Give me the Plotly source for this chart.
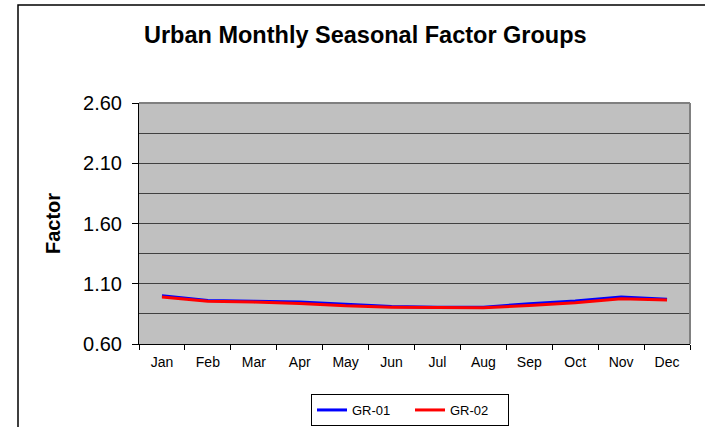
import plotly.graph_objects as go

months = ["Jan", "Feb", "Mar", "Apr", "May", "Jun", "Jul", "Aug", "Sep", "Oct", "Nov", "Dec"]
gr01 = [1.00, 0.962, 0.954, 0.948, 0.929, 0.912, 0.906, 0.906, 0.934, 0.957, 0.990, 0.971]
gr02 = [0.99, 0.954, 0.948, 0.937, 0.917, 0.906, 0.903, 0.900, 0.920, 0.943, 0.976, 0.965]
y_ticks = [0.60, 1.10, 1.60, 2.10, 2.60]

W, H = 705, 427
L, R, T, B = 139, 15, 103, 83
pw, ph = W - L - R, H - T - B

def px_x(x):
    return (x - L) / pw

def px_y(y):
    return (H - B - y) / ph

fig = go.Figure()
fig.add_trace(go.Scatter(x=months, y=gr01, mode="lines", name="GR-01",
                         line=dict(color="#0000FF", width=3)))
fig.add_trace(go.Scatter(x=months, y=gr02, mode="lines", name="GR-02",
                         line=dict(color="#FF0000", width=3)))

font = "Liberation Sans, Arial, sans-serif"
fig.update_layout(
    width=W, height=H,
    margin=dict(l=L, r=R, t=T, b=B, pad=0, autoexpand=False),
    paper_bgcolor="white",
    plot_bgcolor="#C0C0C0",
    font=dict(family=font, color="black"),
    showlegend=True,
    legend=dict(orientation="h", x=px_x(410), y=px_y(410), xanchor="center", yanchor="middle",
                bordercolor="black", borderwidth=1, bgcolor="white",
                font=dict(size=13, family=font), entrywidth=53, tracegroupgap=0),
    xaxis=dict(
        range=[-0.5, 11.5], tickson="boundaries", ticks="outside", ticklen=5,
        tickcolor="black", showgrid=False, showline=True, linecolor="black", linewidth=1,
        tickfont=dict(size=14), zeroline=False, fixedrange=True, ticklabelstandoff=5,
    ),
    yaxis=dict(
        range=[0.60, 2.60], tickvals=y_ticks, ticktext=[f"{v:.2f}" for v in y_ticks],
        ticks="outside", ticklen=6, tickcolor="black", showline=True, linecolor="black",
        linewidth=1, showgrid=True, gridcolor="#404040", gridwidth=1,
        minor=dict(dtick=0.25, tick0=0.6, showgrid=True, gridcolor="#404040", gridwidth=1, ticks=""),
        tickfont=dict(size=20), zeroline=False, fixedrange=True, ticklabelstandoff=6,
        title=dict(text="<b>Factor</b>", font=dict(size=20), standoff=17),
    ),
    shapes=[
        dict(type="rect", xref="paper", yref="paper", x0=px_x(18), x1=px_x(712),
             y0=px_y(440), y1=px_y(5), line=dict(color="black", width=1.5), layer="below"),
        dict(type="line", xref="paper", yref="paper", x0=0, x1=1, y0=1, y1=1,
             line=dict(color="#808080", width=2)),
        dict(type="line", xref="paper", yref="paper", x0=1, x1=1, y0=0, y1=1,
             line=dict(color="#808080", width=2)),
    ],
    annotations=[
        dict(text="<b>Urban Monthly Seasonal Factor Groups</b>", xref="paper", yref="paper",
             x=px_x(365), y=px_y(35), xanchor="center", yanchor="middle", showarrow=False,
             font=dict(size=23.5, family=font)),
    ],
)

fig.write_html("out.html", config={"displayModeBar": False},
               post_script="document.body.style.margin='0';document.body.style.overflow='hidden';")
